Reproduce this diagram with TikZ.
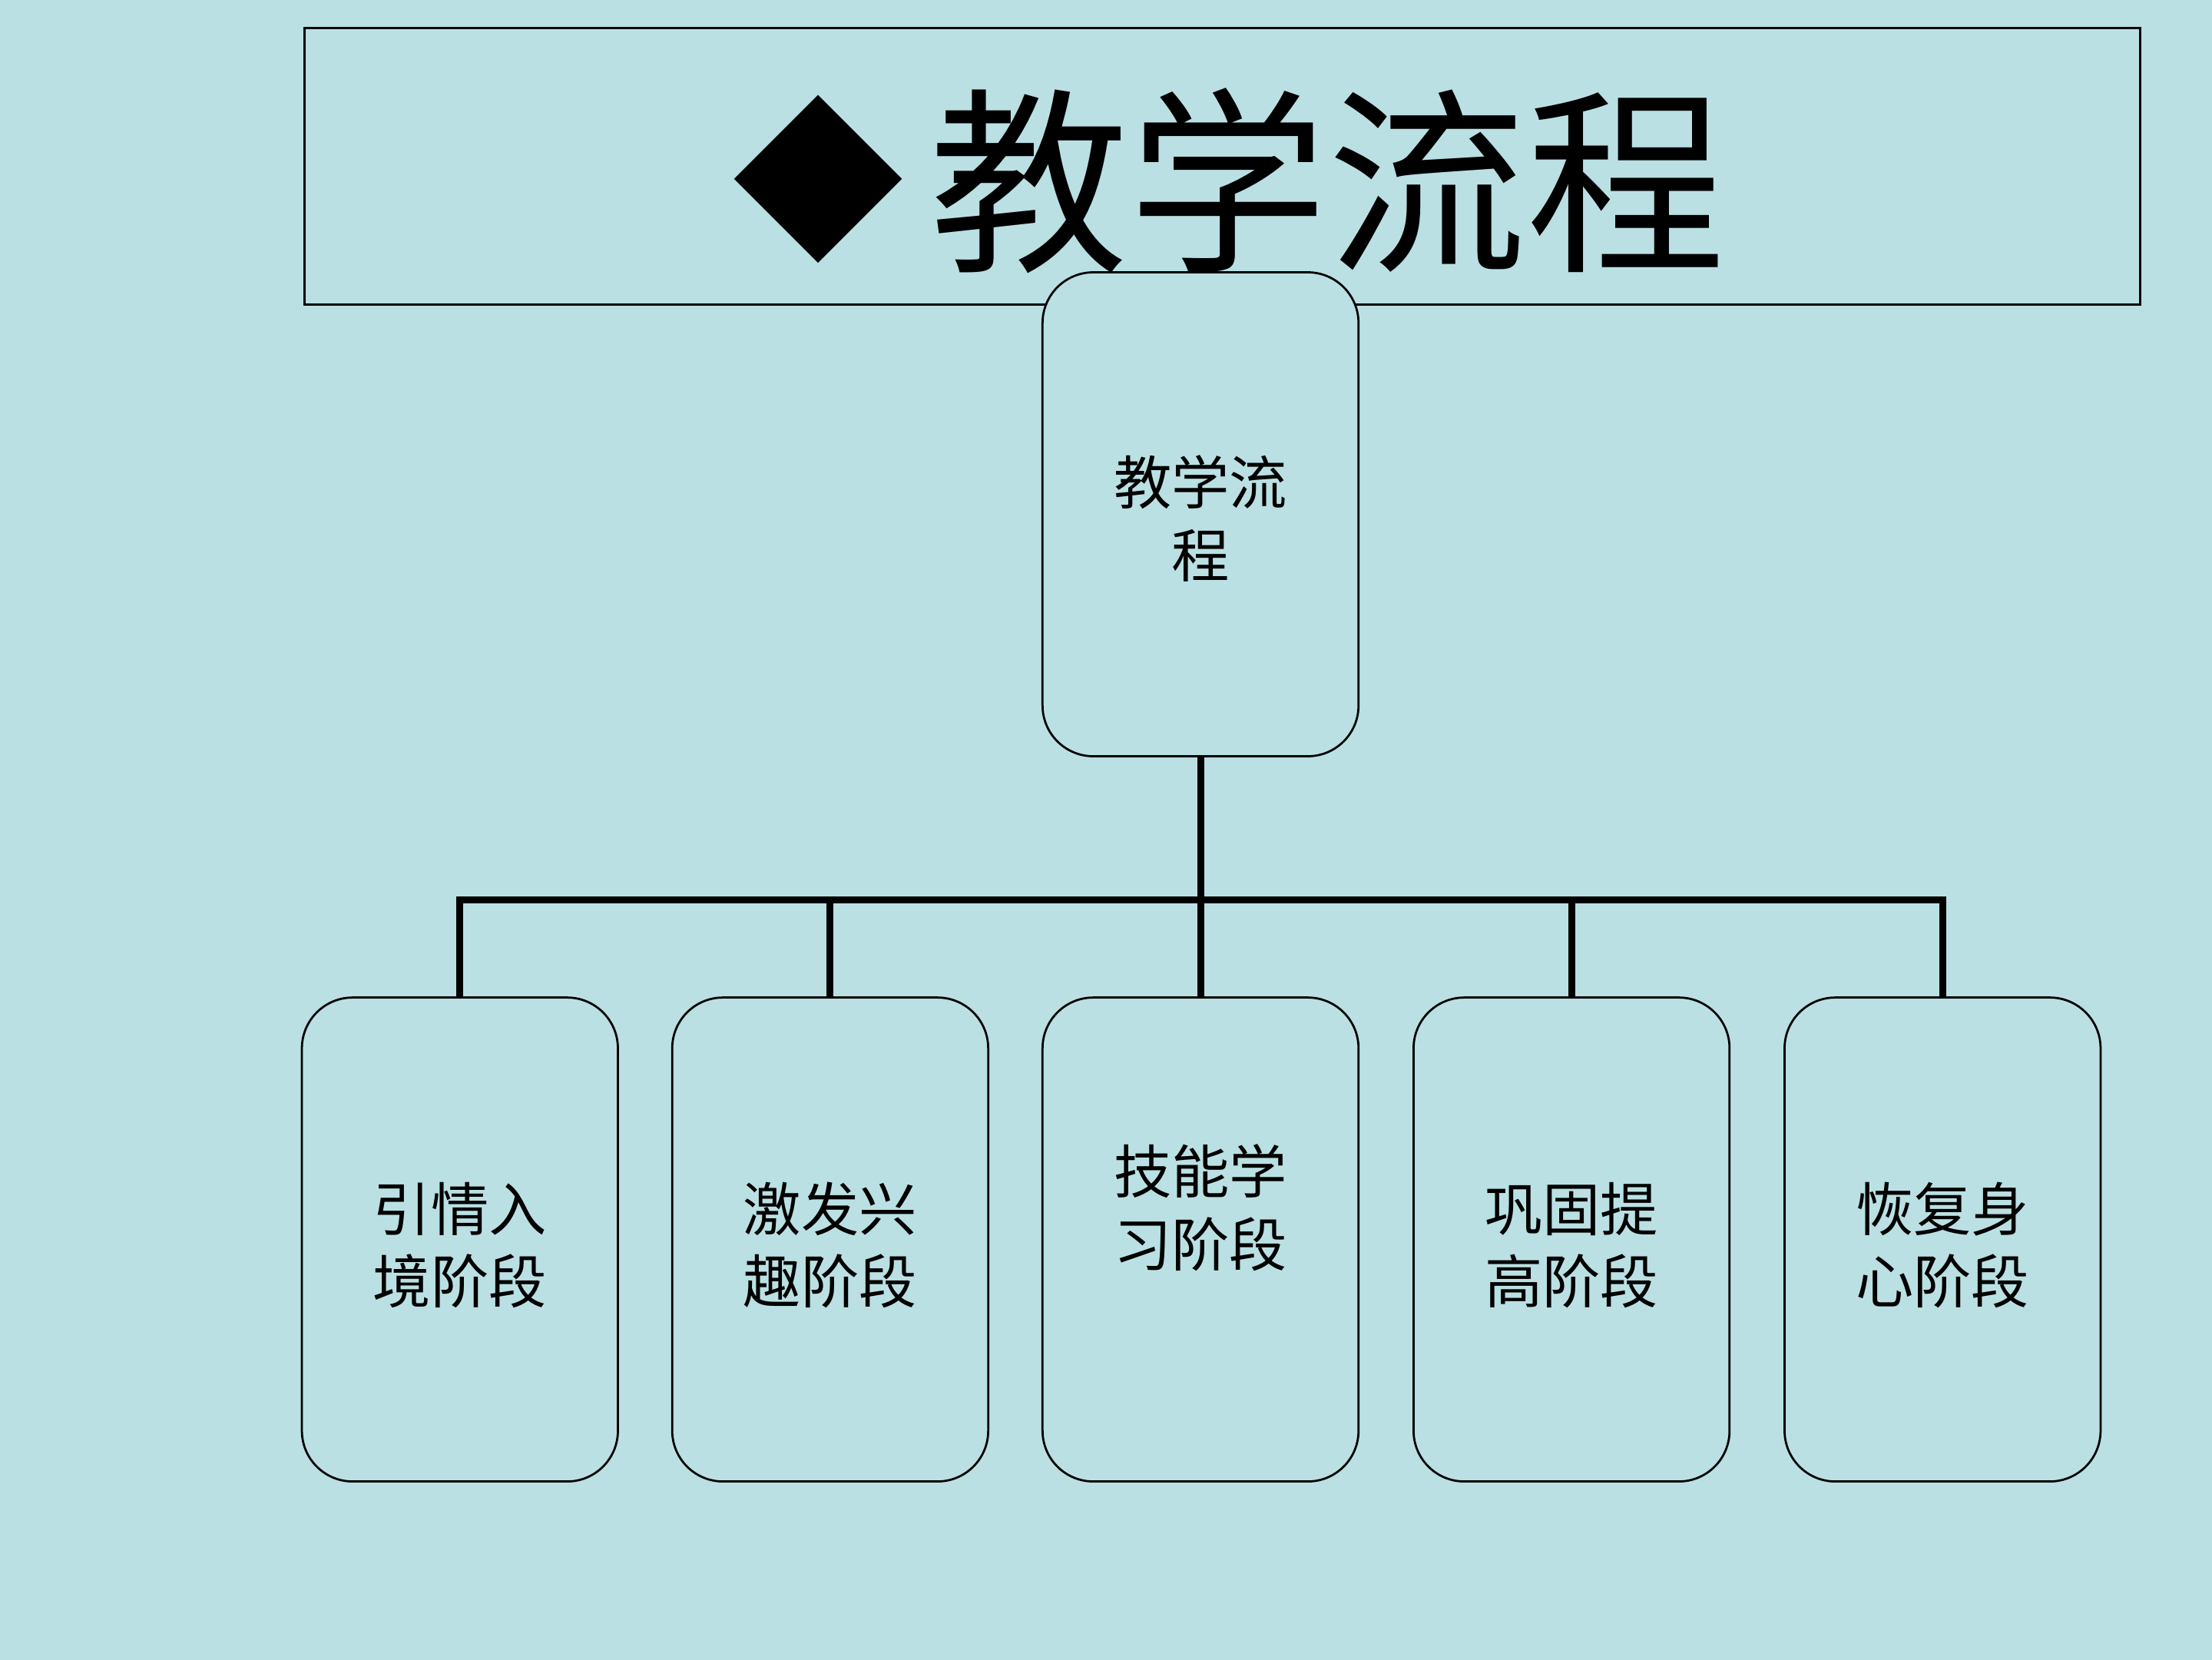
\documentclass[tikz,border=0pt]{standalone}
\usepackage{fontspec}
\newfontfamily\cjk{Noto Sans CJK SC}
\usetikzlibrary{shapes.geometric}
\definecolor{bgc}{HTML}{BAE0E3}
\tikzset{
  stagebox/.style={draw=black, line width=1.5pt, fill=bgc, rounded corners=36pt,
    minimum width=224pt, minimum height=343pt, inner sep=0pt, outer sep=0pt, anchor=north west},
  boxtext/.style={font=\cjk\fontsize{41}{51.5}\selectfont, align=center, inner sep=0pt},
  conn/.style={draw=black, line width=4.9pt},
}
\begin{document}
\begin{tikzpicture}[x=1pt,y=-1pt]
\useasboundingbox (0,0) rectangle (1568,1176);
\fill[bgc] (-10,-10) rectangle (1578,1186);
% title
\node[draw=black, line width=1.4pt, minimum width=1301pt, minimum height=196pt, anchor=north west, inner sep=0pt, outer sep=0pt] (title) at (216,20) {};
\node[font=\cjk\fontsize{122}{122}\selectfont, inner sep=0pt] (diam) at (580,127) {◆};
\node[font=\cjk\fontsize{141}{141}\selectfont, inner sep=0pt] (ttext) at (941,128) {教学流程};
% boxes
\node[stagebox] (top) at (739,193) {};
\node[boxtext] (toptext) at (851,367.5) {教学流\\程};
\node[stagebox] (b1) at (214,707) {};
\node[stagebox] (b2) at (476.5,707) {};
\node[stagebox] (b3) at (739,707) {};
\node[stagebox] (b4) at (1002,707) {};
\node[stagebox] (b5) at (1265,707) {};
\node[boxtext] (t1) at (326,882.5) {引情入\\境阶段};
\node[boxtext] (t2) at (588.5,882.5) {激发兴\\趣阶段};
\node[boxtext] (t3) at (851,856) {技能学\\习阶段};
\node[boxtext] (t4) at (1114,882.5) {巩固提\\高阶段};
\node[boxtext] (t5) at (1377,882.5) {恢复身\\心阶段};
% connectors
\coordinate (bus) at (851,638);
\draw[conn] (top.south) -- (top.south |- bus);
\draw[conn] (b1.north) -- (b1.north |- bus) -- (b5.north |- bus) -- (b5.north);
\draw[conn] (b2.north) -- (b2.north |- bus);
\draw[conn] (b3.north) -- (b3.north |- bus);
\draw[conn] (b4.north) -- (b4.north |- bus);
\end{tikzpicture}
\end{document}
